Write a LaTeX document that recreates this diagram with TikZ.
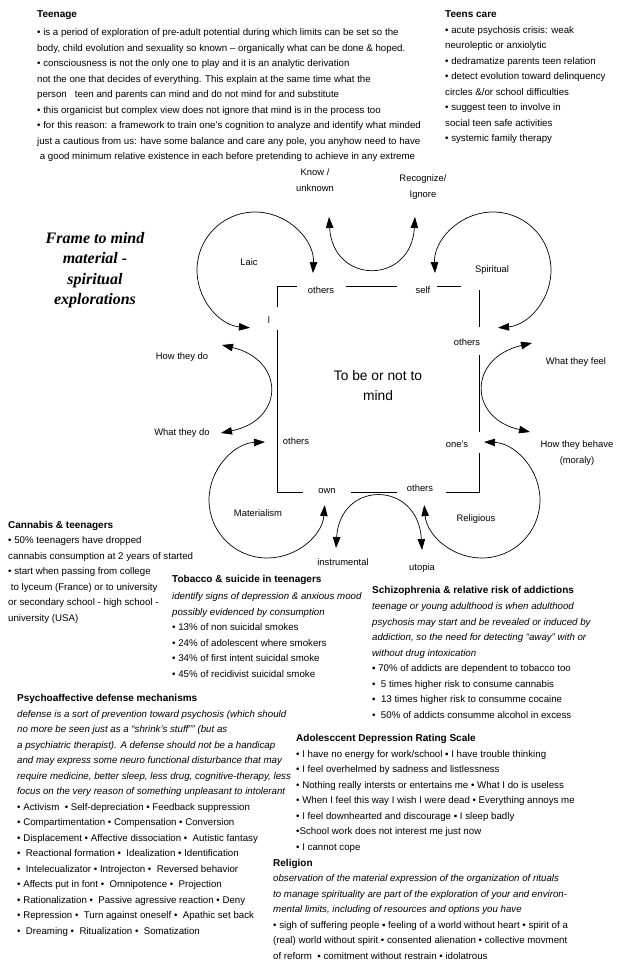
\documentclass[tikz,border=0pt]{standalone}
\usepackage{fontspec}
\setmainfont{Liberation Sans}
\newfontfamily\titleserif{Liberation Serif}
\usetikzlibrary{arrows.meta,calc}
\tikzset{
  txt/.style={inner sep=0pt, anchor=base west, align=left, font=\fontsize{9.7}{15.5}\selectfont},
  lbl/.style={inner sep=0pt, align=center, font=\fontsize{9.4}{15.5}\selectfont},
  framel/.style={line width=0.8pt},
  arcl/.style={line width=0.7pt, {Triangle[length=11pt,width=7.5pt]}-{Triangle[length=11pt,width=7.5pt]}},
}
\newcommand\hd[1]{{\fontsize{10}{15.5}\selectfont\bfseries #1}}
\newcommand\bl{•}
\newcommand\sq{▪}
\begin{document}
\begin{tikzpicture}[x=1pt,y=1pt]
\useasboundingbox (0,0) rectangle (643,-968);

% ---------- top text blocks (anchored at last baseline) ----------
\node[txt] (teen) at (37,-160) {\hd{Teenage}\\[2.5pt]
\bl\ is a period of exploration of pre-adult potential during which limits can be set so the\\
body, child evolution and sexuality so known -- organically what can be done \& hoped.\\
\bl\ consciousness is not the only one to play and it is an analytic derivation\\
not the one that decides of everything. This explain at the same time what the\\
person \ \ teen and parents can mind and do not mind for and substitute\\
\bl\ this organicist but complex view does not ignore that mind is in the process too\\
\bl\ for this reason: a framework to train one’s cognition to analyze and identify what minded\\
just a cautious from us: have some balance and care any pole, you anyhow need to have\\
\ a good minimum relative existence in each before pretending to achieve in any extreme};

\node[txt] (care) at (445,-142) {\hd{Teens care}\\
\bl\ acute psychosis crisis: weak\\
neuroleptic or anxiolytic\\
\bl\ dedramatize parents teen relation\\
\bl\ detect evolution toward delinquency\\
circles \&/or school difficulties\\
\bl\ suggest teen to involve in\\
social teen safe activities\\
\bl\ systemic family therapy};

\node[inner sep=0pt, align=center, font=\titleserif\fontsize{16}{20.5}\selectfont\bfseries\itshape] (frametitle) at (95,-270)
 {Frame to mind\\material -\\spiritual\\explorations};

% ---------- central frame ----------
\draw[framel] (277,-307) -- (277,-286) -- (297,-286);
\draw[framel] (346,-286) -- (397,-286);
\draw[framel] (437,-286) -- (461,-286);
\draw[framel] (479,-290) -- (479,-327);
\draw[framel] (479,-355) -- (479,-432);
\draw[framel] (479,-453) -- (479,-492) -- (446,-492);
\draw[framel] (397,-492) -- (351,-492);
\draw[framel] (303,-492) -- (277,-492) -- (277,-330);

\node[lbl] (tothers) at (321,-290) {others};
\node[lbl] (tself) at (423,-290) {self};
\node[lbl] (rothers) at (467,-342) {others};
\node[lbl] (rones) at (457,-444) {one’s};
\node[lbl] (bothers) at (420,-488) {others};
\node[lbl] (bown) at (327,-491) {own};
\node[lbl] (lothers) at (296,-441) {others};
\node[lbl, text=blue!50!black] (lsmall) at (269,-320) {l};
\node[inner sep=0pt, align=center, font=\fontsize{13.8}{20}\selectfont] (center) at (378,-386) {To be or not to\\mind};

% ---------- outer labels ----------
\node[lbl] (know) at (315,-180) {Know /\\unknown};
\node[lbl] (recog) at (423,-187) {Recognize/\\Ignore};
\node[lbl] (laic) at (249,-262) {Laic};
\node[lbl] (spirit) at (492,-270) {Spiritual};
\node[lbl] (howdo) at (182,-357) {How they do};
\node[lbl] (whatdo) at (182,-433) {What they do};
\node[lbl] (whatfeel) at (576,-362) {What they feel};
\node[lbl] (howbeh) at (577,-453) {How they behave\\(moraly)};
\node[lbl] (mater) at (258,-513) {Materialism};
\node[lbl] (relig) at (476,-519) {Religious};
\node[lbl] (instr) at (343,-562) {instrumental};
\node[lbl] (utop) at (422,-568) {utopia};

% ---------- arcs ----------
\coordinate (laicA) at ($(255,-270)+(-3:58)$);
\coordinate (spirA) at ($(493,-270)+(183:58)$);
\coordinate (matA) at ($(267,-500)+(-5:58)$);
\coordinate (relA) at ($(482,-500)+(185:58)$);
\draw[arcl] (laicA) arc[start angle=-3, end angle=265, radius=58];
\draw[arcl] (spirA) arc[start angle=183, end angle=-85, radius=58];
\draw[arcl] (matA) arc[start angle=-5, end angle=-268, radius=58];
\draw[arcl] (relA) arc[start angle=185, end angle=448, radius=58];

\coordinate (kA) at (329,-217);
\coordinate (kB) at (415,-217);
\draw[arcl] (kA) .. controls (333,-285) and (411,-285) .. (kB);
\coordinate (hA) at (222,-345);
\coordinate (hB) at (221,-433);
\draw[arcl] (hA) .. controls (285,-360) and (285,-420) .. (hB);
\coordinate (fA) at (532,-343);
\coordinate (fB) at (530,-432);
\draw[arcl] (fA) .. controls (468,-358) and (468,-418) .. (fB);
\coordinate (iA) at (336,-548);
\coordinate (iB) at (422,-550);
\draw[arcl] (iA) .. controls (340,-480) and (418,-480) .. (iB);

% ---------- lower text blocks (anchored at last baseline) ----------
\node[txt] (cann) at (8,-621) {\hd{Cannabis \& teenagers}\\
\bl\ 50\% teenagers have dropped\\
cannabis consumption at 2 years of started\\
\bl\ start when passing from college\\
\ to lyceum (France) or to university\\
or secondary school - high school -\\
university (USA)};

\node[txt] (tob) at (172,-677) {\hd{Tobacco \& suicide in teenagers}\\[1.5pt]
\textit{identify signs of depression \& anxious mood}\\
\textit{possibly evidenced by consumption}\\
\bl\ 13\% of non suicidal smokes\\
\bl\ 24\% of adolescent where smokers\\
\bl\ 34\% of first intent suicidal smoke\\
\bl\ 45\% of recidivist suicidal smoke};

\node[txt] (schizo) at (372,-718) {\hd{Schizophrenia \& relative risk of addictions}\\[0.5pt]
\textit{teenage or young adulthood is when adulthood}\\
\textit{psychosis may start and be revealed or induced by}\\
\textit{addiction, so the need for detecting “away” with or}\\
\textit{without drug intoxication}\\
\sq\ 70\% of addicts are dependent to tobacco too\\
\bl\ \ 5 times higher risk to consume cannabis\\
\sq\ \ 13 times higher risk to consumme cocaine\\
\bl\ \ 50\% of addicts consumme alcohol in excess};

\node[txt] (psy) at (17,-934) {\hd{Psychoaffective defense mechanisms}\\
\textit{defense is a sort of prevention toward psychosis (which should}\\
\textit{no more be seen just as a “shrink’s stuff”” (but as}\\
\textit{a psychiatric therapist). A defense should not be a handicap}\\
\textit{and may express some neuro functional disturbance that may}\\
\textit{require medicine, better sleep, less drug, cognitive-therapy, less}\\
\textit{focus on the very reason of something unpleasant to intolerant}\\
\bl\ Activism \ \bl\ Self-depreciation \bl\ Feedback suppression\\
\bl\ Compartimentation \bl\ Compensation \bl\ Conversion\\
\bl\ Displacement \bl\ Affective dissociation \bl\ \ Autistic fantasy\\
\bl\ \ Reactional formation \bl\ \ Idealization \bl\ Identification\\
\bl\ \ Intelecualizator \bl\ Introjecton \bl\ \ Reversed behavior\\
\bl\ Affects put in font \bl\ \ Omnipotence \bl\ \ Projection\\
\bl\ Rationalization \bl\ \ Passive agressive reaction \bl\ Deny\\
\bl\ Repression \bl\ \ Turn against oneself \bl\ \ Apathic set back\\
\bl\ \ Dreaming \bl\ \ Ritualization \bl\ \ Somatization};

\node[txt] (dep) at (296,-850) {\hd{Adolesccent Depression Rating Scale}\\
\bl\ I have no energy for work/school \sq\ I have trouble thinking\\
\bl\ I feel overhelmed by sadness and listlessness\\
\bl\ Nothing really intersts or entertains me \bl\ What I do is useless\\
\bl\ When I feel this way I wish I were dead \bl\ Everything annoys me\\
\bl\ I feel downhearted and discourage \sq\ I sleep badly\\
\bl School work does not interest me just now\\
\bl\ I cannot cope};

\node[txt] (rel) at (273,-959) {\hd{Religion}\\
\textit{observation of the material expression of the organization of rituals}\\
\textit{to manage spirituality are part of the exploration of your and environ-}\\
\textit{mental limits, including of resources and options you have}\\
\bl\ sigh of suffering people \sq\ feeling of a world without heart \bl\ spirit of a\\
(real) world without spirit \bl\ consented alienation \bl\ collective movment\\
of reform \ \sq\ comitment without restrain \bl\ idolatrous};
\end{tikzpicture}
\end{document}
